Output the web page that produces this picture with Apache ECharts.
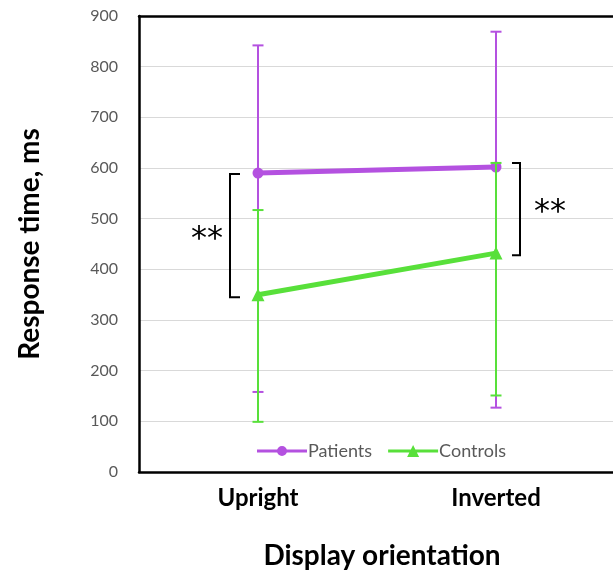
<!DOCTYPE html>
<html><head><meta charset="utf-8">
<script src="https://cdn.jsdelivr.net/npm/echarts@6/dist/echarts.min.js"></script>
<style>html,body{margin:0;padding:0;background:#fff}#c{width:613px;height:571px}</style>
</head><body><div id="c"></div>
<script>
var categories = ['Upright', 'Inverted'];
var patients = [590, 602];
var controls = [350, 432];
var patientsLow = [158, 127];
var patientsHigh = [842, 869];
var controlsLow = [99, 151];
var controlsHigh = [517, 610];
// significance brackets: [categoryIndex, from, to, side]
var brackets = [[0, 588, 345, -1], [1, 610, 428, 1]];
var yTicks = [0, 100, 200, 300, 400, 500, 600, 700, 800, 900];

var PURPLE = '#B451E0';
var GREEN = '#58E03A';
var FONT = 'Lato';

function errData(low, high) {
  return categories.map(function (c, i) { return [i, low[i], high[i]]; });
}
function errRender(color) {
  return function (params, api) {
    var x = api.value(0);
    var lo = api.coord([x, api.value(1)]);
    var hi = api.coord([x, api.value(2)]);
    var hw = 5.5;
    var st = { stroke: color, lineWidth: 2 };
    return { type: 'group', children: [
      { type: 'line', shape: { x1: lo[0], y1: lo[1], x2: hi[0], y2: hi[1] }, style: st },
      { type: 'line', shape: { x1: lo[0] - hw, y1: lo[1], x2: lo[0] + hw, y2: lo[1] }, style: st },
      { type: 'line', shape: { x1: hi[0] - hw, y1: hi[1], x2: hi[0] + hw, y2: hi[1] }, style: st }
    ] };
  };
}

var chart = echarts.init(document.getElementById('c'));
chart.setOption({
  animation: false,
  textStyle: { fontFamily: FONT },
  grid: { left: 139, top: 16, width: 476, height: 456, show: false, containLabel: false, outerBoundsMode: 'none' },
  xAxis: [{
    type: 'category', data: categories,
    axisLine: { show: true, lineStyle: { color: '#000', width: 2.5 } },
    axisTick: { show: false },
    axisLabel: { color: '#000', fontSize: 24, fontWeight: 'bold', margin: 14, fontFamily: FONT },
    name: 'Display orientation', nameLocation: 'middle', nameGap: 70,
    nameTextStyle: { color: '#000', fontSize: 28, fontWeight: 'bold', fontFamily: FONT, padding: [0, 0, 0, 10] }
  }, {
    type: 'category', data: categories, position: 'top',
    axisLine: { show: true, lineStyle: { color: '#000', width: 2.5 } },
    axisTick: { show: false }, axisLabel: { show: false }, splitLine: { show: false }
  }],
  yAxis: {
    type: 'value', min: 0, max: 900, interval: 100,
    axisLine: { show: true, lineStyle: { color: '#000', width: 2.5 } },
    axisTick: { show: false },
    splitLine: { lineStyle: { color: '#D9D9D9', width: 1 } },
    axisLabel: { color: '#595959', fontSize: 16, margin: 21, fontFamily: FONT,
      formatter: function (v) { return yTicks.indexOf(v) >= 0 ? String(v) : ''; } },
    name: 'Response time, ms', nameLocation: 'middle', nameGap: 95,
    nameTextStyle: { color: '#000', fontSize: 28, fontWeight: 'bold', fontFamily: FONT }
  },
  legend: {
    left: 252, top: 437, itemWidth: 50, itemHeight: 14, itemGap: 16,
    textStyle: { color: '#595959', fontSize: 18, fontFamily: FONT, padding: [0, 0, 0, -4] },
    data: [
      { name: 'Patients', icon: 'path://M0,5.5H50V8.5H0Z M25,2A5,5 0 1 1 24.99,2Z' },
      { name: 'Controls', icon: 'path://M0,5.5H50V8.5H0Z M25,1L31,13H19Z' }
    ]
  },
  series: [
    { type: 'custom', name: 'pErr', renderItem: errRender(PURPLE), data: errData(patientsLow, patientsHigh), z: 2 },
    { type: 'line', name: 'Patients', data: patients, symbol: 'circle', symbolSize: 11,
      lineStyle: { color: PURPLE, width: 5 }, itemStyle: { color: PURPLE }, z: 3, xAxisIndex: 0 },
    { type: 'custom', name: 'cErr', renderItem: errRender(GREEN), data: errData(controlsLow, controlsHigh), z: 4 },
    { type: 'line', name: 'Controls', data: controls, symbol: 'triangle', symbolSize: 13,
      lineStyle: { color: GREEN, width: 5 }, itemStyle: { color: GREEN }, z: 5, xAxisIndex: 0 },
    { type: 'custom', name: 'sig', z: 6, data: brackets,
      renderItem: function (params, api) {
        var x = api.value(0), side = api.value(3);
        var a = api.coord([x, api.value(1)]);
        var b = api.coord([x, api.value(2)]);
        var off = side < 0 ? -28 : 24;
        var bx = a[0] + off;
        var tick = side < 0 ? 10 : -8;
        var st = { stroke: '#000', lineWidth: 2, fill: null };
        var tx = side < 0 ? bx - 23 : bx + 30;
        return { type: 'group', children: [
          { type: 'polyline', shape: { points: [[bx + tick, a[1]], [bx, a[1]], [bx, b[1]], [bx + tick, b[1]]] }, style: st },
          { type: 'text', style: { text: '**', x: tx, y: (a[1] + b[1]) / 2 + 4, fill: '#000', font: '32px "DejaVu Sans"', textAlign: 'center', textVerticalAlign: 'middle' } }
        ] };
      }
    }
  ]
});
</script></body></html>
